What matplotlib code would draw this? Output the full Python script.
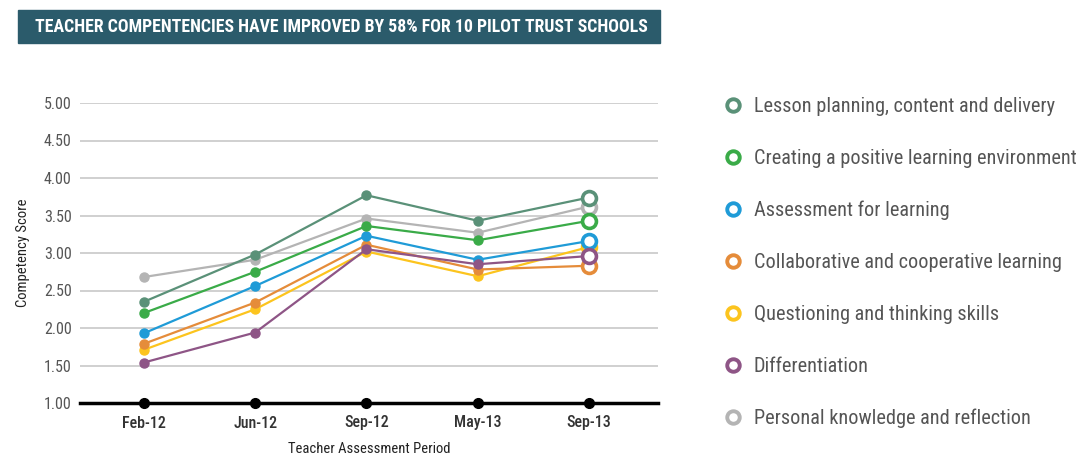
import matplotlib
matplotlib.use("Agg")
import matplotlib.pyplot as plt
from matplotlib.lines import Line2D
from matplotlib.patches import Rectangle

plt.rcParams['font.family'] = ['Roboto Condensed', 'Liberation Sans Narrow', 'Roboto', 'DejaVu Sans']

periods = ['Feb-12', 'Jun-12', 'Sep-12', 'May-13', 'Sep-13']
y_ticks = [1.0, 1.5, 2.0, 2.5, 3.0, 3.5, 4.0, 4.5, 5.0]

labels = [
    'Lesson planning, content and delivery',
    'Creating a positive learning environment',
    'Assessment for learning',
    'Collaborative and cooperative learning',
    'Questioning and thinking skills',
    'Differentiation',
    'Personal knowledge and reflection',
]
colors = ['#5a9178', '#3aab48', '#1f9bd7', '#e58c3a', '#fcc41e', '#8e5586', '#b4b4b4']

lesson = [2.35, 2.98, 3.77, 3.43, 3.74]
positive_env = [2.20, 2.75, 3.36, 3.17, 3.43]
assessment = [1.93, 2.56, 3.23, 2.91, 3.16]
collaborative = [1.79, 2.34, 3.11, 2.78, 2.83]
questioning = [1.71, 2.25, 3.02, 2.69, 3.08]
differentiation = [1.54, 1.94, 3.05, 2.85, 2.96]
personal = [2.68, 2.91, 3.46, 3.27, 3.62]

series = [lesson, positive_env, assessment, collaborative, questioning,
          differentiation, personal]

W, H = 1091, 458
fig = plt.figure(figsize=(W / 100, H / 100), dpi=100)

# title banner
fig.patches.append(Rectangle((18 / W, 1 - 43 / H), 642 / W, 33 / H,
                             transform=fig.transFigure, color='#2b5b6b'))
fig.text(341 / W, 1 - 27 / H,
         'TEACHER COMPENTENCIES HAVE IMPROVED BY 58% FOR 10 PILOT TRUST SCHOOLS',
         color='white', fontsize=12.8, fontweight='bold', ha='center', va='center')

ax = fig.add_axes([80 / W, 55 / H, 578 / W, 300 / H])
x = list(range(len(periods)))

draw_order = [6, 4, 3, 2, 5, 1, 0]
for i in draw_order:
    vals = series[i]
    ax.plot(x, vals, color=colors[i], lw=1.6, marker='o', ms=6.5,
            zorder=3 + draw_order.index(i) * 0.1, clip_on=False)
    ax.plot(x[-1], vals[-1], marker='o', ms=10, mfc='white', mec=colors[i],
            mew=2.6, zorder=3 + draw_order.index(i) * 0.1, clip_on=False)

ax.set_xlim(-0.575, 4.62)
ax.set_ylim(1, 5)
ax.set_yticks(y_ticks)
ax.set_yticklabels(['%.2f' % v for v in y_ticks], fontsize=11.5, color='#555555')
ax.set_xticks(x)
ax.set_xticklabels(periods, fontsize=11.5, color='#333333', fontweight='medium')
ax.tick_params(axis='y', length=0, pad=6)
ax.tick_params(axis='x', length=0, pad=9)
ax.grid(axis='y', color='#c8c8c8', lw=1.2)
ax.set_axisbelow(True)
for s in ['top', 'right', 'left']:
    ax.spines[s].set_visible(False)
ax.spines['bottom'].set_linewidth(2.5)
ax.spines['bottom'].set_color('black')
ax.plot(x, [1] * len(x), 'o', color='black', ms=7, clip_on=False, zorder=5)

ax.set_ylabel('Competency Score', fontsize=10.5, color='#222222', labelpad=10)
ax.set_xlabel('Teacher Assessment Period', fontsize=10.5, color='#222222', labelpad=8)

handles = [Line2D([], [], ls='none', marker='o', ms=9, mfc='white', mec=c, mew=2.8)
           for c in colors]
fig.legend(handles, labels, loc='upper left', bbox_to_anchor=(703 / W, 1 - 79 / H),
           frameon=False, fontsize=14.6, labelcolor='#555555', labelspacing=1.62,
           handletextpad=0.45, handlelength=1.15)

fig.savefig('out.png', dpi=100)
